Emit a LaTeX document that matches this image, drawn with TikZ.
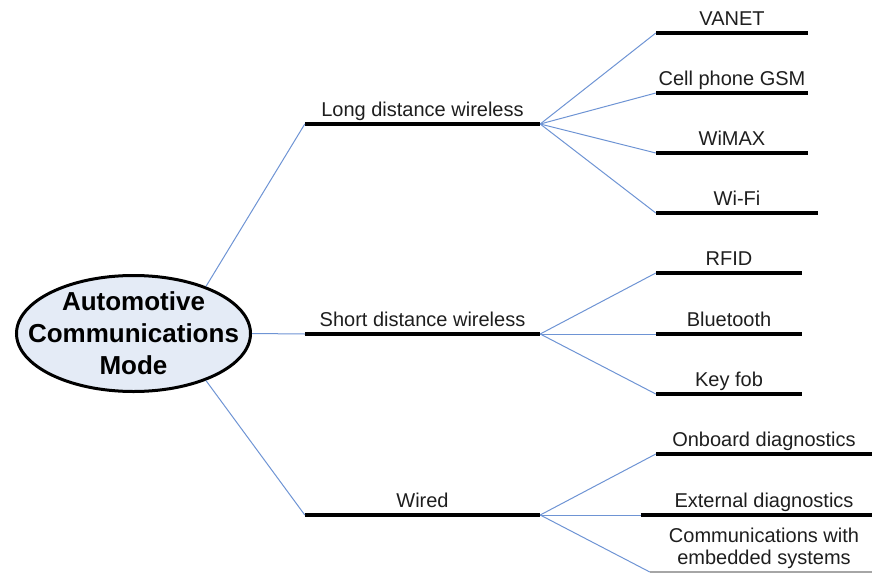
\documentclass[tikz,border=0pt]{standalone}
\usepackage{fontspec}
\setmainfont{Liberation Sans}
\usetikzlibrary{shapes.geometric}
\definecolor{linkblue}{RGB}{110,148,212}
\definecolor{hubfill}{RGB}{228,235,246}
\definecolor{txtgray}{RGB}{30,30,30}

\begin{document}
\begin{tikzpicture}[x=1pt, y=-1pt,
  hub/.style={ellipse, draw=black, line width=3pt, fill=hubfill,
              minimum width=234pt, minimum height=116pt, inner sep=0pt},
  hubtxt/.style={align=center, inner sep=0pt, text=black,
              font=\fontsize{26}{32}\selectfont\bfseries},
  lbl/.style={anchor=south, inner xsep=0pt, inner ysep=4.5pt, text depth=0.25em,
              align=center, text=txtgray, font=\fontsize{20}{22}\selectfont},
  bar/.style={line width=3.5pt, color=black},
  link/.style={line width=1pt, color=linkblue}
]
\useasboundingbox (0,0) rectangle (873,573);

% ── Centre ─────────────
\node[hub] (hub) at (133.5,333.5) {};
\node[hubtxt] (hubtxt) at (hub) {Automotive\\Communications\\Mode};

% ── First level ─────────────
\node[lbl, minimum width=235pt] (lw) at (422.5,124) {Long distance wireless};
\node[lbl, minimum width=235pt] (sw) at (422.5,334) {Short distance wireless};
\node[lbl, minimum width=235pt] (wd) at (422.5,515) {Wired};

% ── Long distance wireless ─────────────
\node[lbl, minimum width=152pt] (vanet) at (732,33)  {VANET};
\node[lbl, minimum width=152pt] (gsm)   at (732,93)  {Cell phone GSM};
\node[lbl, minimum width=152pt] (wimax) at (732,153) {WiMAX};
\node[lbl, minimum width=162pt] (wifi)  at (737,213) {Wi-Fi};

% ── Short distance wireless ─────────────
\node[lbl, minimum width=146pt] (rfid) at (729,273) {RFID};
\node[lbl, minimum width=146pt] (bt)   at (729,334) {Bluetooth};
\node[lbl, minimum width=146pt] (fob)  at (729,394) {Key fob};

% ── Wired ─────────────
\node[lbl, minimum width=216pt] (obd)   at (764,454) {Onboard diagnostics};
\node[lbl, minimum width=216pt] (ext)   at (764,515) {External diagnostics};
\node[lbl, minimum width=216pt] (comms) at (764,572) {Communications with\\embedded systems};
\coordinate (ext-l) at ([xshift=-15pt]ext.south west);
\coordinate (comms-l) at ([xshift=-6pt]comms.south west);

% bars under the labels
\foreach \n in {lw,sw,wd,vanet,gsm,wimax,wifi,rfid,bt,fob,obd}
  \draw[bar] (\n.south west) -- (\n.south east);
\draw[bar] (ext-l) -- (ext.south east);
\draw[line width=1.2pt, color=gray!70] (comms-l) -- (comms.south east);

% connectors
\draw[link] (hub.33)   -- (lw.south west);
\draw[link] (hub.east) -- (sw.south west);
\draw[link] (hub.-33)  -- (wd.south west);
\foreach \t in {vanet,gsm,wimax,wifi}
  \draw[link] (lw.south east) -- (\t.south west);
\foreach \t in {rfid,bt,fob}
  \draw[link] (sw.south east) -- (\t.south west);
\draw[link] (wd.south east) -- (obd.south west);
\draw[link] (wd.south east) -- (ext-l);
\draw[link] (wd.south east) -- (comms-l);
\end{tikzpicture}
\end{document}
